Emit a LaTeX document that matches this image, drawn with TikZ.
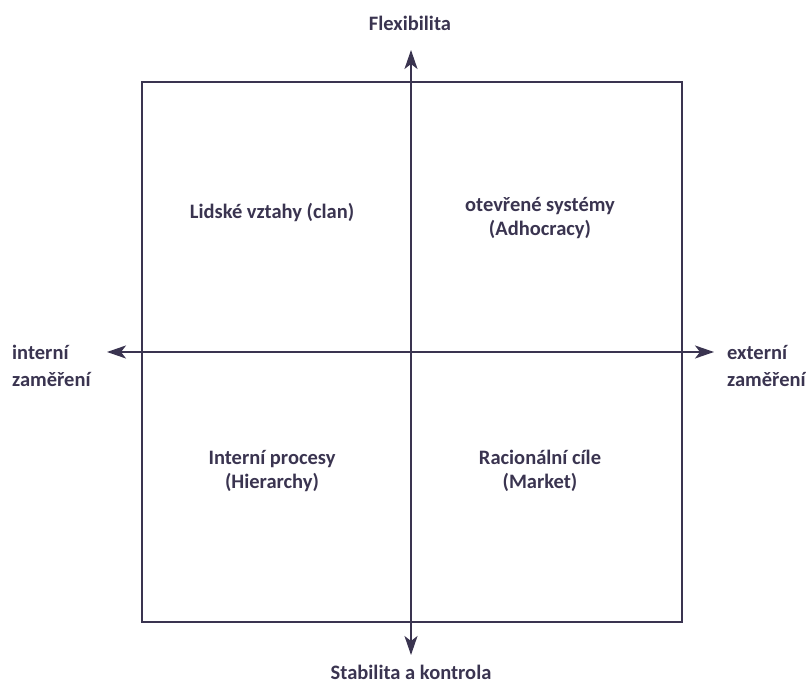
\documentclass[tikz,border=0pt]{standalone}
\usepackage{fontspec}
\setmainfont{Carlito}
\usetikzlibrary{arrows.meta}
\definecolor{ink}{HTML}{3A3450}
\begin{document}
\begin{tikzpicture}[x=1pt,y=-1pt,
  lbl/.style={text=ink,font=\fontsize{20.5}{24}\selectfont\bfseries,inner sep=0pt,align=center},
  side/.style={text=ink,font=\fontsize{20.5}{27}\selectfont\bfseries,inner sep=0pt,align=left,anchor=west},
  axis/.style={draw=ink,line width=2pt,-{Stealth[length=19pt,width=13pt,inset=5pt]}},
  frame/.style={draw=ink,line width=1.8pt}]
\useasboundingbox (0,0) rectangle (806,684);
\node[frame,minimum width=540pt,minimum height=540pt,inner sep=0pt] (box) at (412,352) {};
\coordinate (c) at (411,352);
\coordinate (top) at (411,50);
\coordinate (bot) at (411,655);
\coordinate (lft) at (107,352);
\coordinate (rgt) at (714,352);
\draw[axis] (c) -- (top);
\draw[axis] (c) -- (bot);
\draw[axis] (c) -- (lft);
\draw[axis] (c) -- (rgt);
\node[lbl] (flex) at (410,23) {Flexibilita};
\node[lbl] (stab) at (411,672) {Stabilita a kontrola};
\node[side] (int) at (12,366) {interní\\zaměření};
\node[side] (ext) at (727,366) {externí\\zaměření};
\node[lbl] (q1) at (272,213) {Lidské vztahy (clan)};
\node[lbl] (q2) at (540,218) {otevřené systémy\\(Adhocracy)};
\node[lbl] (q3) at (272,471) {Interní procesy\\(Hierarchy)};
\node[lbl] (q4) at (540,471) {Racionální cíle\\(Market)};
\end{tikzpicture}
\end{document}
